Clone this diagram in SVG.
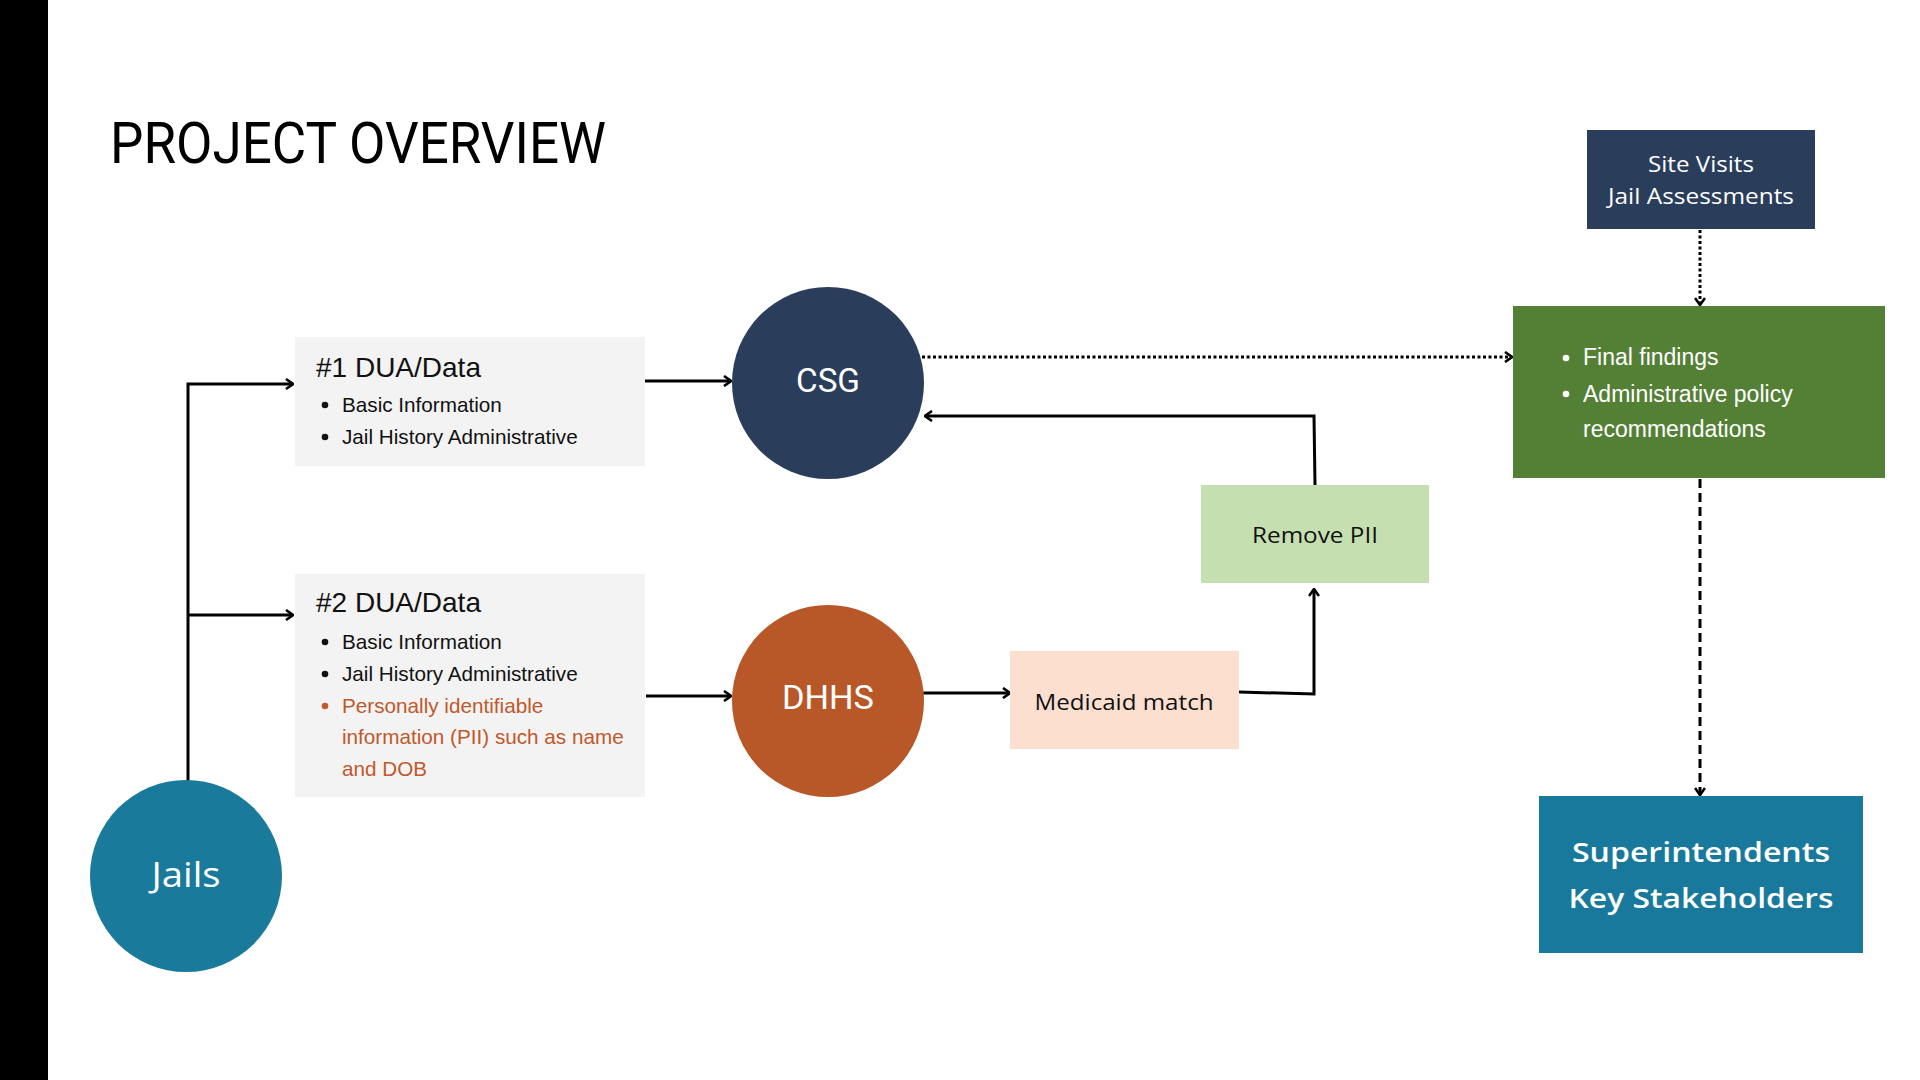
<svg xmlns="http://www.w3.org/2000/svg" width="1920" height="1080" viewBox="0 0 1920 1080">
<style>
.ttl{font-family:Roboto,"Liberation Sans",sans-serif;font-size:57px;fill:#000}
.circ{font-family:Roboto,"Liberation Sans",sans-serif;font-size:34px;fill:#fff;text-anchor:middle}
.hd{font-family:"Liberation Sans",Arial,sans-serif;font-size:28px;fill:#111}
.bl{font-family:"Liberation Sans",Arial,sans-serif;font-size:20.7px;fill:#111}
.or{fill:#C0592B}
.gr{font-family:"Liberation Sans",Arial,sans-serif;font-size:23px;fill:#fff}
.mo{font-family:"Open Sans","Noto Sans",sans-serif;text-anchor:middle}
.ln{fill:none;stroke:#000;stroke-width:3}
.dot{fill:none;stroke:#000;stroke-width:3;stroke-dasharray:3 2.5}
.dash{fill:none;stroke:#000;stroke-width:3;stroke-dasharray:9 5}
</style>
<defs>
<marker id="ah" viewBox="0 0 10 12" refX="9" refY="6" markerWidth="10" markerHeight="12" markerUnits="userSpaceOnUse" orient="auto">
<path d="M2,1 L9,6 L2,11" fill="none" stroke="#000" stroke-width="2.6"/>
</marker>
</defs>
<rect width="1920" height="1080" fill="#fff"/>
<rect x="0" y="0" width="48" height="1080" fill="#000"/>
<text class="ttl" x="110" y="163" textLength="496" lengthAdjust="spacingAndGlyphs">PROJECT OVERVIEW</text>

<g id="connectors">
<path class="ln" d="M188,782 V384 H293" marker-end="url(#ah)"/>
<path class="ln" d="M188,615 H293" marker-end="url(#ah)"/>
<path class="ln" d="M645,381 H731" marker-end="url(#ah)"/>
<path class="ln" d="M646,696 H731" marker-end="url(#ah)"/>
<path class="ln" d="M923,693 H1010" marker-end="url(#ah)"/>
<path class="ln" d="M1239,692 L1314,694 V589" marker-end="url(#ah)"/>
<path class="ln" d="M1315,485 L1314,416 H925" marker-end="url(#ah)"/>
<path class="dot" d="M922,357 H1512" marker-end="url(#ah)"/>
<path class="dot" d="M1700,230 V305" marker-end="url(#ah)"/>
<path class="dash" d="M1700,479 V795" marker-end="url(#ah)"/>
</g>

<g id="box1">
<rect x="295" y="337" width="350" height="129" fill="#F3F3F3"/>
<text class="hd" x="316" y="377">#1 DUA/Data</text>
<circle cx="325" cy="405" r="3.3" fill="#111"/>
<text class="bl" x="342" y="412">Basic Information</text>
<circle cx="325" cy="437" r="3.3" fill="#111"/>
<text class="bl" x="342" y="444">Jail History Administrative</text>
</g>

<g id="box2">
<rect x="295" y="574" width="350" height="223" fill="#F3F3F3"/>
<text class="hd" x="316" y="612">#2 DUA/Data</text>
<circle cx="325" cy="642" r="3.3" fill="#111"/>
<text class="bl" x="342" y="649">Basic Information</text>
<circle cx="325" cy="674" r="3.3" fill="#111"/>
<text class="bl" x="342" y="681">Jail History Administrative</text>
<circle cx="325" cy="706" r="3.3" fill="#C0592B"/>
<text class="bl or" x="342" y="713">Personally identifiable</text>
<text class="bl or" x="342" y="744">information (PII) such as name</text>
<text class="bl or" x="342" y="776">and DOB</text>
</g>

<g id="jails">
<circle cx="186" cy="876" r="96" fill="#1A7A9C"/>
<text class="mo" x="186" y="887" font-size="35" fill="#fff" textLength="69" lengthAdjust="spacingAndGlyphs">Jails</text>
</g>

<g id="csg">
<circle cx="828" cy="383" r="96" fill="#2A3E5C"/>
<text class="circ" x="828" y="392" textLength="64" lengthAdjust="spacingAndGlyphs">CSG</text>
</g>

<g id="dhhs">
<circle cx="828" cy="701" r="96" fill="#B85829"/>
<text class="circ" x="828" y="709" textLength="92" lengthAdjust="spacingAndGlyphs">DHHS</text>
</g>

<g id="medicaid">
<rect x="1010" y="651" width="229" height="98" fill="#FDDFD0"/>
<text class="mo" x="1124" y="710" font-size="22" fill="#111" textLength="179" lengthAdjust="spacingAndGlyphs">Medicaid match</text>
</g>

<g id="removepii">
<rect x="1201" y="485" width="228" height="98" fill="#C5DFB0"/>
<text class="mo" x="1315" y="543" font-size="22" fill="#111" textLength="126" lengthAdjust="spacingAndGlyphs">Remove PII</text>
</g>

<g id="sitevisits">
<rect x="1587" y="130" width="228" height="99" fill="#2A3E5C"/>
<text class="mo" x="1701" y="172" font-size="21" fill="#fff" textLength="106" lengthAdjust="spacingAndGlyphs">Site Visits</text>
<text class="mo" x="1701" y="204" font-size="21" fill="#fff" textLength="186" lengthAdjust="spacingAndGlyphs">Jail Assessments</text>
</g>

<g id="findings">
<rect x="1513" y="306" width="372" height="172" fill="#548036"/>
<circle cx="1566" cy="358" r="3.3" fill="#fff"/>
<text class="gr" x="1583" y="365">Final findings</text>
<circle cx="1566" cy="394" r="3.3" fill="#fff"/>
<text class="gr" x="1583" y="402">Administrative policy</text>
<text class="gr" x="1583" y="437">recommendations</text>
</g>

<g id="stakeholders">
<rect x="1539" y="796" width="324" height="157" fill="#19799C"/>
<text class="mo" x="1701" y="862" font-size="27" font-weight="600" fill="#fff" textLength="258" lengthAdjust="spacingAndGlyphs">Superintendents</text>
<text class="mo" x="1701" y="908" font-size="27" font-weight="600" fill="#fff" textLength="265" lengthAdjust="spacingAndGlyphs">Key Stakeholders</text>
</g>
</svg>
